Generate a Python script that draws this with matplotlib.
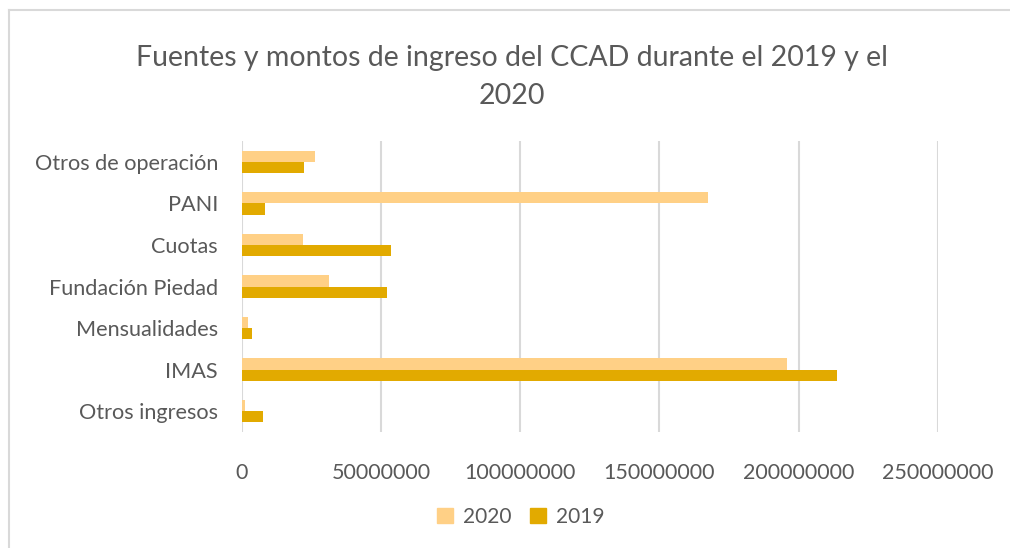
import matplotlib
matplotlib.use("Agg")
import matplotlib.pyplot as plt
from matplotlib.lines import Line2D
from matplotlib.patches import Patch
import numpy as np

categories = ["Otros de operación", "PANI", "Cuotas", "Fundación Piedad",
              "Mensualidades", "IMAS", "Otros ingresos"]
values_2020 = [26.2e6, 167.4e6, 22.0e6, 31.2e6, 2.4e6, 195.8e6, 1.2e6]
values_2019 = [22.4e6, 8.3e6, 53.7e6, 52.2e6, 3.7e6, 213.7e6, 7.5e6]
xticks = [0, 50000000, 100000000, 150000000, 200000000, 250000000]
title = "Fuentes y montos de ingreso del CCAD durante el 2019 y el\n2020"

c2020 = "#FFD086"
c2019 = "#E2AA00"
txt = "#595959"
font = "Lato"

fig = plt.figure(figsize=(10.1, 5.48), dpi=100)
W, H = 1010, 548
# chart border (only top and left edges visible in the crop)
fig.add_artist(Line2D([8.5 / W, 8.5 / W], [0, 1 - 10 / H], transform=fig.transFigure,
                      color="#D9D9D9", linewidth=1.5))
fig.add_artist(Line2D([8.5 / W, 1], [1 - 10 / H, 1 - 10 / H], transform=fig.transFigure,
                      color="#D9D9D9", linewidth=1.5))

ax = fig.add_axes([241.7 / W, 1 - 432 / H, (938 - 241.7) / W, (432 - 141) / H])
n = len(categories)
y = np.arange(n)
h = 0.27
ax.barh(y - h / 2, values_2020, height=h, color=c2020, label="2020", zorder=3)
ax.barh(y + h / 2, values_2019, height=h, color=c2019, label="2019", zorder=3)
ax.set_ylim(n - 0.5, -0.5)
ax.set_xlim(0, 250000000)
ax.set_yticks(y)
ax.set_yticklabels(categories, fontsize=15.6, color=txt, family=font)
ax.set_xticks(xticks)
ax.set_xticklabels([str(v) for v in xticks], fontsize=15.5, color=txt, family=font)
ax.tick_params(axis="both", length=0)
ax.tick_params(axis="y", pad=17)
ax.tick_params(axis="x", pad=22)
ax.grid(axis="x", color="#D9D9D9", linewidth=1.5, zorder=0)
for s in ax.spines.values():
    s.set_visible(False)

fig.text(512 / W, 1 - 77 / H, title, ha="center", va="center", fontsize=20.5,
         color=txt, family=font, linespacing=1.6)

handles = [Patch(color=c2020, label="2020"), Patch(color=c2019, label="2019")]
fig.legend(handles=handles, loc="center", bbox_to_anchor=(521 / W, 1 - 517 / H),
           ncol=2, frameon=False, prop={"family": font, "size": 15},
           labelcolor=txt, handlelength=0.75, handleheight=0.75, handletextpad=0.5,
           columnspacing=0.9)

fig.savefig("out.png", dpi=100, facecolor="white")
